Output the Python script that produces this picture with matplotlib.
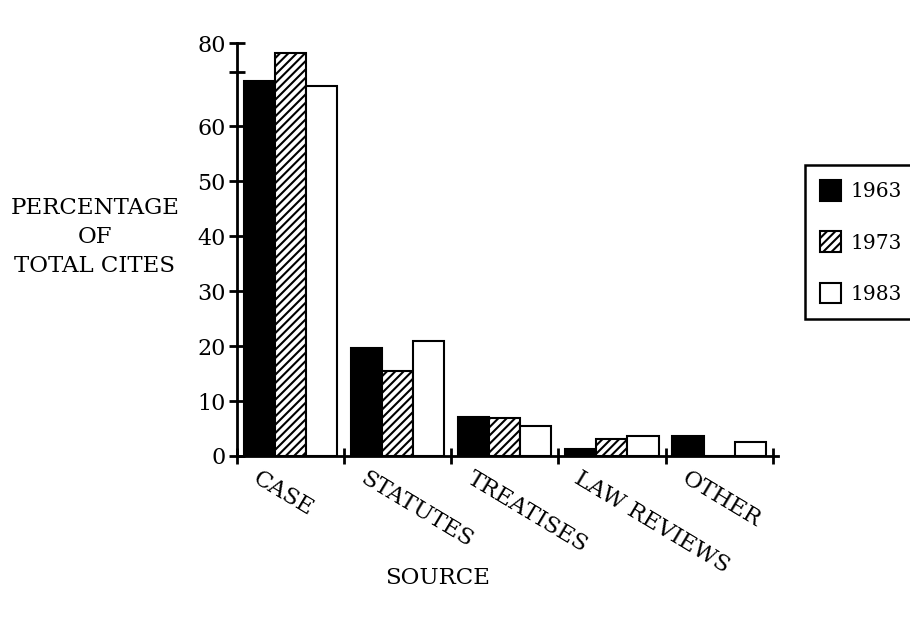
import numpy as np
import matplotlib.pyplot as plt

plt.rcParams['font.family'] = 'DejaVu Serif'
plt.rcParams['hatch.linewidth'] = 1.5

# values (percentage of total cites)
sources = ['CASE', 'STATUTES', 'TREATISES', 'LAW REVIEWS', 'OTHER']
years = ['1963', '1973', '1983']
pct_1963 = [68.3, 19.7, 7.1, 1.3, 3.7]
pct_1973 = [73.4, 15.5, 7.0, 3.1, 0.0]
pct_1983 = [67.3, 20.9, 5.4, 3.7, 2.5]

# the original draws its "80" tick where a linear scale reaches ~75
ytop = 75.2

fig = plt.figure(figsize=(9.1, 6.2), dpi=100)
ax = fig.add_axes([237 / 910, 164 / 620, 541 / 910, 413 / 620])

x = np.arange(len(sources))
w = 0.29
styles = [dict(color='black', edgecolor='black'),
          dict(color='white', edgecolor='black', hatch='////'),
          dict(color='white', edgecolor='black')]
for i, (vals, st) in enumerate(zip([pct_1963, pct_1973, pct_1983], styles)):
    ax.bar(x + (i - 1) * w, vals, w, linewidth=1.5, label=years[i], **st)

ax.set_xlim(-0.5, 4.55)
ax.set_ylim(0, ytop)
ax.set_yticks(list(range(0, 71, 10)) + [ytop])
ax.set_yticklabels(['0', '10', '20', '30', '40', '50', '60', '', '80'])
ax.set_xticks(np.arange(-0.5, 5, 1))
ax.set_xticklabels([])
ax.tick_params(axis='both', direction='inout', length=12, width=2, labelsize=16, pad=2)
for s in ['top', 'right']:
    ax.spines[s].set_visible(False)
for s in ['left', 'bottom']:
    ax.spines[s].set_linewidth(2)

for i, name in enumerate(sources):
    ax.text(i - 0.28, -2.0, name, rotation=-31, rotation_mode='anchor',
            ha='left', va='top', fontsize=16.5)

fig.text(95 / 910, 1 - 237 / 620, 'PERCENTAGE\nOF\nTOTAL CITES', ha='center',
         va='center', multialignment='center', fontsize=16.5, linespacing=1.4)
fig.text(438 / 910, 1 - 578 / 620, 'SOURCE', ha='center', va='center', fontsize=16.5)

leg = fig.legend(loc='upper left', bbox_to_anchor=(795 / 910, 1 - 155 / 620),
                 fontsize=14.5, fancybox=False, edgecolor='black', framealpha=1,
                 handlelength=1.05, handleheight=1.2, labelspacing=1.5,
                 borderpad=0.75, handletextpad=0.45)
leg.get_frame().set_linewidth(1.8)

fig.savefig('out.png', dpi=100)
